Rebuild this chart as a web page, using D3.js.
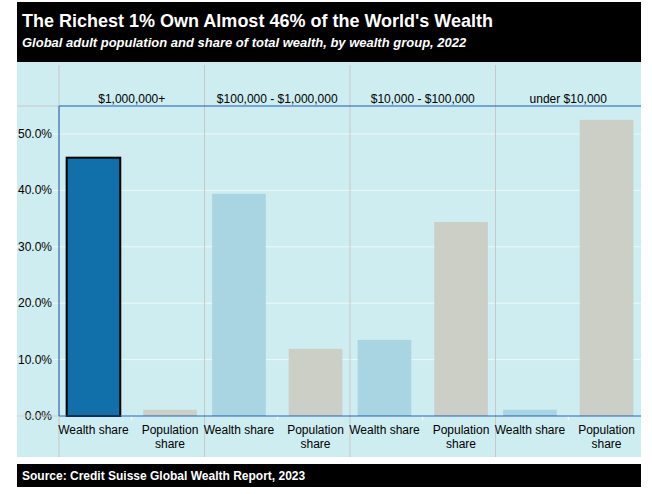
<!DOCTYPE html><html><head><script src="https://cdn.jsdelivr.net/npm/d3@7"></script>
<style>body{margin:0;background:#fff}svg{font-family:"Liberation Sans",Arial,sans-serif}</style></head><body><svg id="c" width="652" height="494"></svg>
<script>
const groups=["$1,000,000+","$100,000 - $1,000,000","$10,000 - $100,000","under $10,000"];
const measures=["Wealth share","Population share"];
const wealth=[45.8,39.4,13.5,1.1];
const population=[1.1,11.9,34.4,52.5];
const yTicks=[0,10,20,30,40,50];
const svg=d3.select("#c");
svg.append("rect").attr("x",17).attr("y",62).attr("width",624).attr("height",395).attr("fill","#cdedf0");
svg.append("rect").attr("x",17).attr("y",2).attr("width",624).attr("height",60).attr("fill","#000");
svg.append("text").attr("x",22).attr("y",27).attr("fill","#fff").attr("font-size",18).attr("font-weight","bold").text("The Richest 1% Own Almost 46% of the World's Wealth");
svg.append("text").attr("x",22).attr("y",47).attr("fill","#fff").attr("font-size",13).attr("font-weight","bold").attr("font-style","italic").text("Global adult population and share of total wealth, by wealth group, 2022");
svg.append("rect").attr("x",17).attr("y",464).attr("width",624).attr("height",23).attr("fill","#000");
svg.append("text").attr("x",22).attr("y",480).attr("fill","#fff").attr("font-size",12).attr("font-weight","bold").text("Source: Credit Suisse Global Wealth Report, 2023");
const x=d3.scaleBand().domain(groups).range([59,641]);
const xi=d3.scaleBand().domain(measures).range([0,x.bandwidth()]).paddingInner(0.3).paddingOuter(0.1);
const y=d3.scaleLinear().domain([0,50]).range([416,134]);
yTicks.forEach(t=>{svg.append("line").attr("x1",17).attr("x2",641).attr("y1",y(t)).attr("y2",y(t)).attr("stroke","#f0f8f8").attr("stroke-width",1);
svg.append("text").attr("x",52).attr("y",y(t)+4).attr("text-anchor","end").attr("font-size",12).text(t.toFixed(1)+"%");});
groups.forEach(g=>svg.append("line").attr("x1",x(g)).attr("x2",x(g)).attr("y1",65).attr("y2",457).attr("stroke","#c8c8c8"));
svg.append("line").attr("x1",17).attr("x2",59).attr("y1",y(0)).attr("y2",y(0)).attr("stroke","#c8c8c8");
svg.append("line").attr("x1",17).attr("x2",59).attr("y1",106).attr("y2",106).attr("stroke","#c8c8c8");
const colors=[["#1170aa","#cbcfc6"],["#a9d4e2","#cbcfc6"],["#a9d4e2","#cbcfc6"],["#a9d4e2","#cbcfc6"]];
groups.forEach((g,i)=>{
 [wealth[i],population[i]].forEach((v,j)=>{
  const r=svg.append("rect").attr("x",x(g)+xi(measures[j])).attr("width",xi.bandwidth()).attr("y",y(v)).attr("height",y(0)-y(v)).attr("fill",colors[i][j]);
  if(i==0&&j==0)r.attr("stroke","#000").attr("stroke-width",2);
  const tx=svg.append("text").attr("x",x(g)+xi(measures[j])+xi.bandwidth()/2).attr("text-anchor","middle").attr("font-size",12);
  if(j==0)tx.attr("y",434).text("Wealth share");
  else{tx.append("tspan").attr("x",x(g)+xi(measures[j])+xi.bandwidth()/2).attr("y",434).text("Population");tx.append("tspan").attr("x",x(g)+xi(measures[j])+xi.bandwidth()/2).attr("y",448).text("share");}
 });
 svg.append("text").attr("x",x(g)+x.bandwidth()/2).attr("y",103).attr("text-anchor","middle").attr("font-size",12).text(g);
 svg.append("line").attr("x1",x(g)+x.bandwidth()/2).attr("x2",x(g)+x.bandwidth()/2).attr("y1",416).attr("y2",420).attr("stroke","#fff");
});
svg.append("line").attr("x1",59).attr("x2",641).attr("y1",106).attr("y2",106).attr("stroke","#1a5fb4");
svg.append("line").attr("x1",59).attr("x2",641).attr("y1",416).attr("y2",416).attr("stroke","#1a5fb4");
svg.append("line").attr("x1",59).attr("x2",59).attr("y1",106).attr("y2",416).attr("stroke","#1a5fb4");
</script></body></html>
